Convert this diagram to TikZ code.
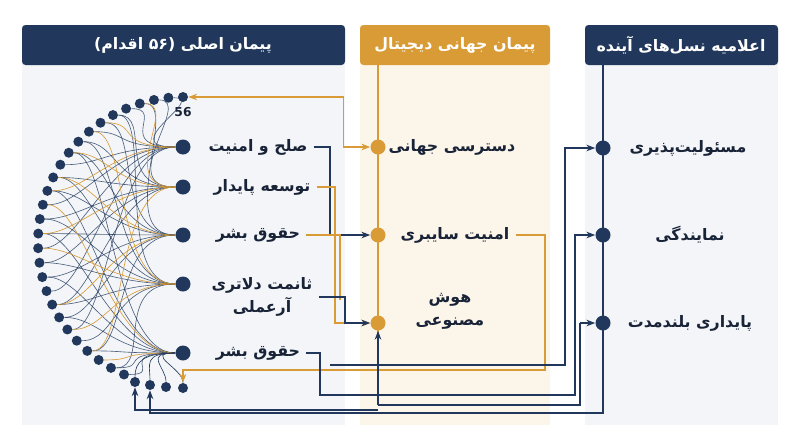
\documentclass[tikz,border=0pt]{standalone}
\usepackage{fontspec}
\setmainfont{DejaVu Sans}
\newfontfamily\fa[Script=Arabic]{DejaVu Sans}
\TeXXeTstate=1
\usetikzlibrary{arrows.meta,positioning,calc}
\definecolor{navy}{RGB}{33,56,92}
\definecolor{gold}{RGB}{216,155,53}
\definecolor{panelgrey}{RGB}{243,245,248}
\definecolor{panelcream}{RGB}{252,245,234}
\definecolor{inkdark}{RGB}{25,35,55}
\newcommand{\fatext}[1]{{\fa\bfseries\beginR #1\endR}}
\tikzset{
  head/.style={minimum height=0.8cm, text=white, font=\small},
  bigdot/.style={circle, fill=navy, inner sep=0pt, minimum size=0.3cm},
  smalldot/.style={circle, fill=navy, inner sep=0pt, minimum size=0.2cm},
  golddot/.style={circle, fill=gold, inner sep=0pt, minimum size=0.3cm},
  lbl/.style={text=inkdark, font=\small, align=center},
  nv/.style={navy, line width=0.7pt},
  og/.style={gold, line width=0.7pt},
  tip/.style={-{Stealth[length=5pt]}}
}
\begin{document}
\begin{tikzpicture}[x=0.02cm,y=-0.02cm]
  \useasboundingbox (0,0) rectangle (800,447);
  \fill[white] (0,0) rectangle (800,447);
  % panels
  \fill[panelgrey] (22,25) rectangle (345,425);
  \fill[navy,rounded corners=2pt] (22,25) rectangle (345,65);
  \node[head] (hmain) at (183,45) {\fatext{پیمان اصلی (۵۶ اقدام)}};
  \fill[panelcream] (360,25) rectangle (550,425);
  \fill[gold,rounded corners=2pt] (360,25) rectangle (550,65);
  \node[head] (hdig) at (455,45) {\fatext{پیمان جهانی دیجیتال}};
  \fill[panelgrey] (585,25) rectangle (778,425);
  \fill[navy,rounded corners=2pt] (585,25) rectangle (778,65);
  \node[head] (hfut) at (681,45) {\fatext{اعلامیه نسل‌های آینده}};
  \draw[og] (378,65) -- (378,405);
  \draw[nv] (603,65) -- (603,405);

  % arc of actions
  \foreach \i in {0,...,27}{
    \pgfmathsetmacro{\a}{90+\i*156/27}
    \node[smalldot] (s\i) at ({183+145*cos(\a)},{242-145*sin(\a)}) {};
  }
  \node[smalldot] (b0) at (183,388) {};
  \node[smalldot] (b1) at (166,387) {};
  \node[smalldot] (b2) at (150,385) {};
  \node[smalldot] (b3) at (135,382) {};
  \node[font=\scriptsize\bfseries, text=inkdark] (n56) at (183,112) {56};

  % main pillars
  \node[bigdot] (p1) at (183,147) {};
  \node[bigdot] (p2) at (183,187) {};
  \node[bigdot] (p3) at (183,235) {};
  \node[bigdot] (p4) at (183,284) {};
  \node[bigdot] (p5) at (183,353) {};
  \node[lbl] (l1) at (258,147) {\fatext{صلح و امنیت}};
  \node[lbl] (l2) at (262,187) {\fatext{توسعه پایدار}};
  \node[lbl] (l3) at (258,235) {\fatext{حقوق بشر}};
  \node[lbl] (l4) at (262,297) {\fatext{ثانمت دلاتری}\\[2pt]\fatext{آرعملی}};
  \node[lbl] (l5) at (258,353) {\fatext{حقوق بشر}};

  % web of links
  \foreach \p/\list in {p1/{1,4,7,10,13,16,19,22}, p2/{2,5,8,11,14,17,20}, p3/{3,6,9,12,15,18,21,24}, p4/{5,8,11,14,17,20,23,26}, p5/{9,12,15,18,21,24,27,26}}{
    \foreach \k in \list{
      \draw[nv, line width=0.35pt, opacity=0.8] (\p) .. controls +(-70,0) and +(40,0) .. (s\k);
    }
  }
  \foreach \p/\list in {p1/{6,12}, p2/{3,9,15,24}, p3/{11,20}, p4/{7,16,22}, p5/{13,25}}{
    \foreach \k in \list{
      \draw[og, line width=0.35pt] (\p) .. controls +(-70,0) and +(40,0) .. (s\k);
    }
  }
  \foreach \b in {b0,b1,b2,b3}{
    \draw[nv, line width=0.35pt] (p5) .. controls +(-40,0) and +(0,-20) .. (\b);
  }

  % digital compact
  \node[golddot] (d1) at (378,147) {};
  \node[golddot] (d2) at (378,235) {};
  \node[golddot] (d3) at (378,323) {};
  \node[lbl] (dl1) at (452,147) {\fatext{دسترسی جهانی}};
  \node[lbl] (dl2) at (455,235) {\fatext{امنیت سایبری}};
  \node[lbl] (dl3) at (450,311) {\fatext{هوش}\\[2pt]\fatext{مصنوعی}};

  % future generations
  \node[bigdot] (f1) at (603,148) {};
  \node[bigdot] (f2) at (603,235) {};
  \node[bigdot] (f3) at (603,323) {};
  \node[lbl] (fl1) at (688,148) {\fatext{مسئولیت‌پذیری}};
  \node[lbl] (fl2) at (690,235) {\fatext{نمایندگی}};
  \node[lbl] (fl3) at (690,323) {\fatext{پایداری بلندمدت}};

  % cross links
  \draw[og,{Stealth[length=5pt]}-{Stealth[length=5pt]}] (s0.east) -- ++(155,0) |- (d1);
  \draw[nv,tip] (l1.east) -| (330,220) |- (d2);
  \draw[og,tip] (l2.east) -| (335,308) |- (d3);
  \draw[og] (l3.east) -| (340,300);
  \draw[nv,tip] (l4.east) -| (345,323) -- (d3);
  \draw[og,tip] (dl2.east) -| (545,370) -| (b0);
  \draw[nv,tip] (330,365) -| (565,160) |- (f1);
  \draw[nv,tip] (l5.east) -| (320,395) -| (575,235) -- (f2);
  \draw[nv,tip] (580,323) -- (f3);
  \draw[nv] (580,323) |- (378,405);
  \draw[nv,tip] (378,405) -- (d3);
  \draw[nv,tip] (378,410) -| (b3);
  \draw[nv,tip] (603,405) |- (378,413) -| (b2);
\end{tikzpicture}
\end{document}
